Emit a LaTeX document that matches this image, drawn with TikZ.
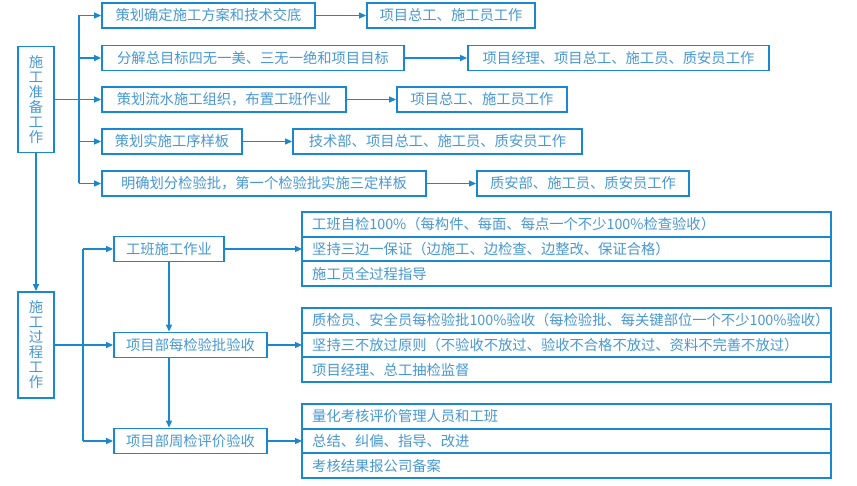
\documentclass[tikz,border=0pt]{standalone}
\usepackage{fontspec}
\newfontfamily\cjk{Noto Sans CJK SC}
\usetikzlibrary{arrows.meta}
\definecolor{bd}{RGB}{25,136,206}
\definecolor{tx}{RGB}{72,152,212}
\begin{document}
\begin{tikzpicture}[x=1pt,y=-1pt,
  txtfont/.style={font=\cjk\fontsize{14.3}{15}\selectfont},
  box/.style={draw=bd, line width=1.8pt, fill=white, text=tx, txtfont, minimum height=25pt, inner sep=0pt},
  vbox/.style={box, minimum width=36pt, minimum height=106pt, align=center},
  row/.style={draw=bd, line width=1.8pt, minimum width=529pt, minimum height=24.67pt, anchor=north west, inner sep=0pt, outer sep=0pt},
  rt/.style={anchor=west, text=tx, txtfont, inner sep=0pt},
  ln/.style={draw=bd, line width=1.2pt},
  conn/.style={ln, -{Triangle[length=7pt,width=6pt]}}
]
\fill[white] (0,0) rectangle (857,486);
\useasboundingbox (0,0) rectangle (857,486);

% left column
\node[vbox] (L1) at (36,99.5) {施\\工\\准\\备\\工\\作};
\node[vbox] (L2) at (36,345) {施\\工\\过\\程\\工\\作};

% group 1
\node[box, minimum width=213pt] (b1) at (208.5,15.5) {策划确定施工方案和技术交底};
\node[box, minimum width=168pt] (r1) at (451,15.5) {项目总工、施工员工作};
\node[box, minimum width=302pt] (b2) at (253,58) {分解总目标四无一美、三无一绝和项目目标};
\node[box, minimum width=301pt] (r2) at (618.5,58) {项目经理、项目总工、施工员、质安员工作};
\node[box, minimum width=244pt] (b3) at (224,99.5) {策划流水施工组织，布置工班作业};
\node[box, minimum width=170pt] (r3) at (482,99.5) {项目总工、施工员工作};
\node[box, minimum width=140pt] (b4) at (172,141.5) {策划实施工序样板};
\node[box, minimum width=289pt] (r4) at (437.5,141.5) {技术部、项目总工、施工员、质安员工作};
\node[box, minimum width=324pt] (b5) at (264,183.5) {明确划分检验批，第一个检验批实施三定样板};
\node[box, minimum width=212pt] (r5) at (583,183.5) {质安部、施工员、质安员工作};

\coordinate (k1) at (79,99.5);
\draw[conn] (L1.east) -- (b3.west);
\draw[ln] (k1 |- b1.west) -- (k1 |- b5.west);
\foreach \n in {b1,b2,b4,b5} \draw[conn] (k1 |- \n.west) -- (\n.west);
\foreach \a/\b in {b1/r1,b2/r2,b3/r3,b4/r4,b5/r5} \draw[conn] (\a.east) -- (\b.west);

\draw[conn] (L1.south) -- (L2.north);

% group 2
\node[box, minimum width=110pt] (c1) at (169,249) {工班施工作业};
\node[box, minimum width=153pt] (c2) at (190.5,345) {项目部每检验批验收};
\node[box, minimum width=153pt] (c3) at (190.5,441) {项目部周检评价验收};

\coordinate (k2) at (83,345);
\draw[conn] (L2.east) -- (c2.west);
\draw[ln] (k2 |- c1.west) -- (k2 |- c3.west);
\draw[conn] (k2 |- c1.west) -- (c1.west);
\draw[conn] (k2 |- c3.west) -- (c3.west);
\draw[conn] (c1.south) -- (c1.south |- c2.north);
\draw[conn] (c2.south -| c1.south) -- (c1.south |- c3.north);

% tables
\node[row] (t1a) at (302,212) {};
\node[row] (t1b) at (302,236.67) {};
\node[row] (t1c) at (302,261.33) {};
\node[row] (t2a) at (302,308) {};
\node[row] (t2b) at (302,332.67) {};
\node[row] (t2c) at (302,357.33) {};
\node[row] (t3a) at (302,404) {};
\node[row] (t3b) at (302,428.67) {};
\node[row] (t3c) at (302,453.33) {};

\node[rt] (t1at) at ([xshift=10pt]t1a.west) {工班自检100\%（每构件、每面、每点一个不少100\%检查验收）};
\node[rt] (t1bt) at ([xshift=10pt]t1b.west) {坚持三边一保证（边施工、边检查、边整改、保证合格）};
\node[rt] (t1ct) at ([xshift=10pt]t1c.west) {施工员全过程指导};
\node[rt] (t2at) at ([xshift=10pt]t2a.west) {质检员、安全员每检验批100\%验收（每检验批、每关键部位一个不少100\%验收）};
\node[rt] (t2bt) at ([xshift=10pt]t2b.west) {坚持三不放过原则（不验收不放过、验收不合格不放过、资料不完善不放过）};
\node[rt] (t2ct) at ([xshift=10pt]t2c.west) {项目经理、总工抽检监督};
\node[rt] (t3at) at ([xshift=10pt]t3a.west) {量化考核评价管理人员和工班};
\node[rt] (t3bt) at ([xshift=10pt]t3b.west) {总结、纠偏、指导、改进};
\node[rt] (t3ct) at ([xshift=10pt]t3c.west) {考核结果报公司备案};

\draw[conn] (c1.east) -- (t1b.west |- c1.east);
\draw[conn] (c2.east) -- (t2b.west |- c2.east);
\draw[conn] (c3.east) -- (t3b.west |- c3.east);
\end{tikzpicture}
\end{document}
